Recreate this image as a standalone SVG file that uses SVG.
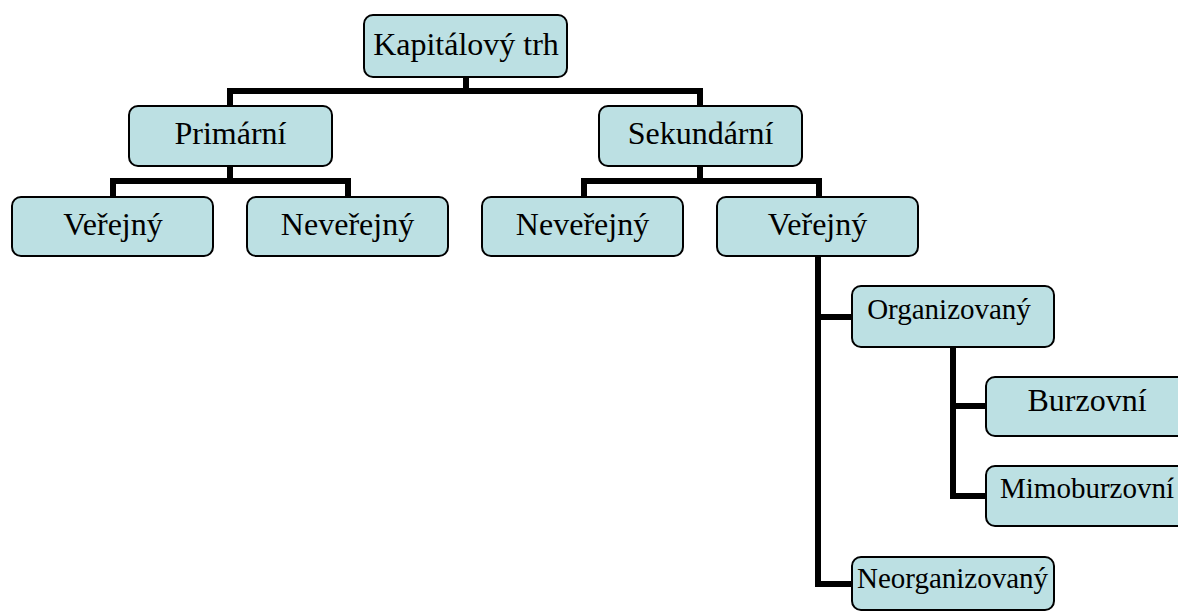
<svg xmlns="http://www.w3.org/2000/svg" width="1178" height="612" viewBox="0 0 1178 612">
<style>
.box{fill:#bce0e3;stroke:#000;stroke-width:2}
.lbl{font-family:"Liberation Serif","Times New Roman",serif;font-size:32px;fill:#000;text-anchor:middle}
.sm{font-size:29px}
.con{fill:none;stroke:#000;stroke-width:6;stroke-linejoin:miter;stroke-linecap:butt}
</style>
<rect width="1178" height="612" fill="#fff"/>
<g id="connectors">
<path class="con" d="M466,77 V91 M230,106 V91 H700 V106"/>
<path class="con" d="M230,166 V181 M113,197 V181 H348 V197"/>
<path class="con" d="M700,166 V181 M584,197 V181 H819 V197"/>
<path class="con" d="M818,256 V584 H852 M818,317 H852"/>
<path class="con" d="M953,347 V496 H986 M953,406 H986"/>
</g>
<g id="kapitalovy-trh"><rect class="box" x="364" y="15" width="203" height="62" rx="9"/><text class="lbl" x="466" y="55">Kapitálový trh</text></g>
<g id="primarni"><rect class="box" x="129" y="106" width="203" height="60" rx="9"/><text class="lbl" x="230.5" y="144">Primární</text></g>
<g id="sekundarni"><rect class="box" x="599" y="106" width="203" height="60" rx="9"/><text class="lbl" x="700.5" y="144">Sekundární</text></g>
<g id="verejny-primarni"><rect class="box" x="12" y="197" width="201" height="59" rx="9"/><text class="lbl" x="113" y="235">Veřejný</text></g>
<g id="neverejny-primarni"><rect class="box" x="247" y="197" width="201" height="59" rx="9"/><text class="lbl" x="347.5" y="235">Neveřejný</text></g>
<g id="neverejny-sekundarni"><rect class="box" x="482" y="197" width="201" height="59" rx="9"/><text class="lbl" x="582.5" y="235">Neveřejný</text></g>
<g id="verejny-sekundarni"><rect class="box" x="717" y="197" width="201" height="59" rx="9"/><text class="lbl" x="817.5" y="235">Veřejný</text></g>
<g id="organizovany"><rect class="box" x="852" y="286" width="202" height="61" rx="9"/><text class="lbl sm" x="949" y="319">Organizovaný</text></g>
<g id="burzovni"><rect class="box" x="986" y="377" width="201" height="59" rx="9"/><text class="lbl" x="1087" y="411">Burzovní</text></g>
<g id="mimoburzovni"><rect class="box" x="986" y="466" width="201" height="60" rx="9"/><text class="lbl sm" x="1087" y="498">Mimoburzovní</text></g>
<g id="neorganizovany"><rect class="box" x="852" y="557" width="202" height="53" rx="9"/><text class="lbl sm" x="952.5" y="588">Neorganizovaný</text></g>
</svg>
